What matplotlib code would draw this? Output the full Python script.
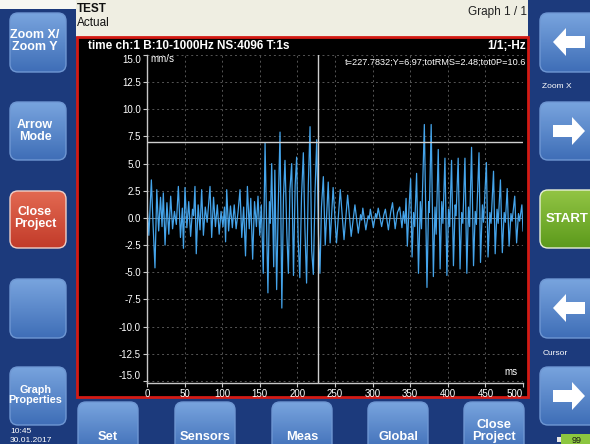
import numpy as np
import matplotlib
matplotlib.use('agg')
import matplotlib.pyplot as plt
from matplotlib.patches import FancyBboxPatch, Rectangle, Polygon
from matplotlib.colors import LinearSegmentedColormap

plt.rcParams['font.family'] = ['Liberation Sans', 'DejaVu Sans']

# waveform turning points: time in ms, velocity in mm/s
t_ms = [
    0.0, 2.5, 5.8, 8.0, 10.6, 13.0, 15.5, 18.0, 20.0, 21.7, 24.0, 26.5, 29.0, 31.5, 34.0, 36.5,
    39.0, 41.7, 44.5, 47.0, 48.5, 50.5, 53.0, 55.5, 58.0, 60.5, 62.0, 63.8, 65.5, 68.0, 70.5,
    72.7, 75.0, 77.5, 80.0, 83.8, 86.0, 88.5, 91.0, 93.5, 96.0, 98.5, 101.0, 103.0, 104.5,
    106.0, 108.5, 111.0, 113.5, 116.0, 118.5, 121.0, 123.7, 126.0, 128.5, 131.0, 133.5, 136.0,
    138.0, 140.5, 143.0, 145.5, 147.6, 150.0, 152.0, 154.6,
    157.0, 160.8, 162.8, 164.0, 165.8, 168.5, 170.0, 172.4, 174.5, 176.9, 179.3, 181.5, 183.5,
    186.0, 188.0, 190.0, 192.4, 194.8, 197.0, 199.0, 201.0, 203.2, 205.5, 207.9, 210.0, 212.2,
    214.5, 216.8, 219.0, 221.2, 223.5, 225.7, 228.0, 230.0, 232.0, 234.5, 237.0, 239.0, 241.0,
    243.5,
    247.5, 252.0, 257.0, 262.0, 266.8, 271.5, 276.5, 281.0, 284.0, 285.5, 287.0, 291.0, 294.0,
    295.5, 297.0, 301.0, 304.0, 305.5, 307.5, 312.0, 315.0, 317.0, 321.0, 324.0, 326.5, 330.0,
    333.0, 336.0, 339.0, 341.0,
    343.0, 344.5, 346.2, 348.5, 350.6, 352.5, 354.5, 356.0, 358.5, 361.0, 363.5, 365.0, 368.8,
    372.3, 374.5, 375.5, 377.9, 380.8, 383.0, 384.5, 387.3, 389.8, 392.0, 393.5, 396.2, 398.8,
    401.0, 402.5, 405.0, 407.5, 409.8, 411.0, 413.8, 416.3, 418.5, 420.0, 422.8, 425.3, 427.5,
    429.0, 431.6, 434.2, 436.5, 438.0, 441.5, 443.5, 446.0, 447.5, 451.3, 453.5, 456.0, 457.5,
    460.8, 463.0, 465.5, 467.0, 470.0, 472.5, 475.0, 476.5, 479.0, 481.5, 484.0, 485.5, 489.0,
    491.5, 494.0, 495.5, 498.5, 500.0,
]
v_mms = [
    1.3, -1.6, 3.5, -0.5, -4.6, 2.6, -1.2, 1.9, -0.8, 2.3, -2.5, 1.4, -1.5, 2.0, -1.0, 0.6,
    -0.6, 2.9, -1.8, 0.9, -2.8, 2.8, -0.9, 1.5, -1.7, 0.8, 0.2, 2.9, -3.3, 1.2, -1.1,
    2.6, -1.6, 1.0, -0.4, 2.9, -1.8, 1.9, -0.8, 1.2, -1.5, 0.6, -0.8, 1.0, -2.2,
    2.6, -1.2, 1.1, -0.9, 1.2, -1.0, 0.5, 2.6, -1.8, 1.0, -3.5, 2.9, -1.0,
    1.8, -3.8, 1.5, -0.8, 2.0, -1.6, 1.2, -5.1,
    6.9, -6.9, 1.5, -0.5, 5.0, -4.5, 4.4, -6.6, 1.0, 7.9, -8.3, 2.0, 5.3,
    -1.5, -5.1, 2.5, 5.0, -5.3, 3.0, 5.6, -2.0, -5.5, 2.0, 6.0, -1.0, -6.0,
    3.0, 8.4, -3.0, -5.2, 2.5, 7.2, -1.5, -5.1, 1.0, 3.8, -2.5, 0.5, 3.3,
    -2.3,
    2.8, -2.3, 2.6, -2.0, 2.1, -1.7, 1.2, -1.4, 0.3, -0.2, 0.9, -1.1, 0.2,
    -0.1, 0.8, -0.9, 0.4, 0.0, 0.9, -0.8, 0.3, 0.8, -1.1, 0.5, 1.4, -1.0,
    0.5, 1.0, -0.9, 0.6,
    -0.5, 1.8, -2.6, 1.0, 3.6, -3.6, 0.5, -0.8, 4.1, -5.1, 1.5, -1.0, 8.6,
    -6.4, 1.5, 0.5, 8.6, -5.4, 1.0, -1.5, 6.3, -4.7, 1.5, -0.5, 5.5, -5.3,
    0.8, -0.8, 5.3, -4.4, 1.2, 0.2, 5.5, -4.7, 0.5, -0.5, 5.5, -5.1, 1.0,
    -0.8, 6.5, -4.4, 0.6, -0.6, 6.0, -4.1, 1.2, -0.4, 5.1, -3.6, 0.5, -0.5,
    4.3, -3.3, 0.8, -0.5, 3.5, -3.2, 0.5, -0.4, 2.7, -2.6, 0.4, -0.3, 2.0,
    -2.3, 0.4, -0.3, 1.2, -1.2,
]

x_ticks = [0, 50, 100, 150, 200, 250, 300, 350, 400, 450, 500]
y_ticks = [15.0, 12.5, 10.0, 7.5, 5.0, 2.5, 0.0, -2.5, -5.0, -7.5, -10.0, -12.5, -15.0]
cursor_t = 227.7832
cursor_y = 6.97

title = 'time ch:1 B:10-1000Hz NS:4096 T:1s'
readout = 't=227.7832;Y=6.97;totRMS=2.48;tot0P=10.6'

W, H = 590, 444
fig = plt.figure(figsize=(W / 100, H / 100), dpi=100)
fig.patch.set_facecolor('#1c3a7c')

ui = fig.add_axes([0, 0, 1, 1])
ui.set_axis_off()

# header strip
ui.add_patch(Rectangle((0, 0), 76, 9, fc='#f7f7f2', ec='none', zorder=1))
ui.add_patch(Rectangle((76, 0), 452, 37, fc='#efeee2', ec='none', zorder=1))
ui.text(77, 9, 'TEST', fontsize=8.5, fontweight='bold', color='#111111', va='center', zorder=3)
ui.text(77, 23, 'Actual', fontsize=8.5, color='#111111', va='center', zorder=3)
ui.text(527, 12, 'Graph 1 / 1', fontsize=8.5, color='#222222', va='center', ha='right', zorder=3)

# black plot panel with red frame
ui.add_patch(Rectangle((76.5, 37.5), 451, 359, fc='black', ec='#d41a14', lw=2, zorder=1))
ui.text(88, 46, title, fontsize=8.5, fontweight='bold', color='white', va='center', zorder=3)
ui.text(526, 46, '1/1;-Hz', fontsize=8.5, fontweight='bold', color='white', va='center', ha='right', zorder=3)
ui.text(526, 62, readout, fontsize=6.6, color='white', va='center', ha='right', zorder=3)


def button(x0, y0, x1, y1, top, bottom, edge, lw=1.0):
    patch = FancyBboxPatch((x0, y0), x1 - x0, y1 - y0,
                           boxstyle='round,pad=0,rounding_size=8',
                           fc='none', ec=edge, lw=lw, zorder=3)
    ui.add_patch(patch)
    cmap = LinearSegmentedColormap.from_list('btn', [top, bottom])
    grad = np.linspace(0, 1, 64)[:, None]
    ui.imshow(grad, cmap=cmap, extent=(x0, x1, y1, y0), aspect='auto',
              clip_path=patch, zorder=2, interpolation='bilinear')


def label(x, y, s, size=9):
    ui.text(x, y, s, fontsize=size, fontweight='bold', color='white',
            ha='center', va='center', linespacing=1.0, zorder=4)


BLUE = ('#78a4de', '#3f6eb7', '#6f97d3')
RED = ('#e36a52', '#c23b2a', '#f0d0c8')
GREEN = ('#93c545', '#5c9a1c', '#e8f0d8')

# left column
left = [(13, 72, 'Zoom X/\nZoom Y', BLUE, 41, 9),
        (102, 160, 'Arrow\nMode', BLUE, 131, 9),
        (191, 248, 'Close\nProject', RED, 218, 9),
        (279, 338, '', BLUE, 308, 9),
        (367, 425, 'Graph\nProperties', BLUE, 395, 7.8)]
for y0, y1, s, c, ty, fs in left:
    button(10, y0, 66, y1, *c)
    if s:
        label(35, ty, s, fs)
ui.text(10, 431, '10:45', fontsize=6, color='white', va='center', zorder=4)
ui.text(10, 440, '30.01.2017', fontsize=6, color='white', va='center', zorder=4)

# bottom row
bottom = [(78, 'Set'), (175, 'Sensors'), (272, 'Meas'), (368, 'Global'), (464, 'Close\nProject')]
for x0, s in bottom:
    button(x0, 402, x0 + 60, 452, *BLUE)
    label(x0 + 30, 431 if '\n' in s else 437, s, 9.3)

# right column
for y0, y1, c in [(13, 72, BLUE), (102, 160, BLUE), (190, 248, GREEN),
                  (279, 338, BLUE), (367, 425, BLUE)]:
    button(540, y0, 600, y1, *c)
label(567, 219, 'START', 9.5)
ui.text(557, 86, 'Zoom X', fontsize=6, color='white', ha='center', va='center', zorder=4)
ui.text(555, 353, 'Cursor', fontsize=6, color='white', ha='center', va='center', zorder=4)


def arrow(cx, cy, direction):
    pts = np.array([[-16, 0], [-3, -14], [-3, -6], [16, -6], [16, 6], [-3, 6], [-3, 14]], float)
    if direction == 'right':
        pts[:, 0] *= -1
    ui.add_patch(Polygon(pts + [cx, cy], closed=True, fc='white', ec='none', zorder=5))


arrow(569, 42, 'left')
arrow(569, 131, 'right')
arrow(569, 308, 'left')
arrow(569, 396, 'right')

# battery
ui.add_patch(Rectangle((561, 434), 30, 11, fc='#8cc63f', ec='none', zorder=3))
ui.add_patch(Rectangle((557, 437), 4, 5, fc='#e6e6e6', ec='none', zorder=3))
ui.text(577, 440, '99', fontsize=6.5, color='#1a1a1a', ha='center', va='center', zorder=4)

ui.set_xlim(0, W)
ui.set_ylim(H, 0)

# signal axes
ax = fig.add_axes([147 / W, 1 - 383 / H, 376 / W, 328 / H])
ax.set_facecolor('none')
ax.set_xlim(0, 500)
ax.set_ylim(-15.2, 15.0)
for side in ('top', 'right'):
    ax.spines[side].set_visible(False)
for side in ('left', 'bottom'):
    ax.spines[side].set_color('#c8c8c8')
    ax.spines[side].set_linewidth(1.0)

ax.set_xticks(x_ticks)
ax.set_yticks(y_ticks)
ax.set_xticklabels([str(v) for v in x_ticks])
ax.set_yticklabels(['%.1f' % v for v in y_ticks])
ax.tick_params(colors='#c8c8c8', labelcolor='white', labelsize=7, length=3, width=0.8, pad=1.5)
ax.get_xticklabels()[-1].set_ha('right')
ax.get_yticklabels()[0].set_va('top')
ax.get_yticklabels()[-1].set_va('bottom')
ax.grid(True, color='#555555', linestyle=(0, (2, 3)), linewidth=0.7)
ax.set_axisbelow(True)

ax.axhline(0, color='#8c8c8c', lw=0.6, zorder=1)
ax.plot(t_ms, v_mms, color='#45a4ea', lw=0.9, zorder=2)
ax.axvline(cursor_t, color='#cfcfcf', lw=1.0, zorder=3)
ax.axhline(cursor_y, color='#cfcfcf', lw=1.0, zorder=3)

ax.text(4, 14.6, 'mm/s', fontsize=7, color='white', va='center')
ax.text(493, -14.2, 'ms', fontsize=7, color='white', va='center', ha='right')

fig.savefig('out.png', dpi=100, facecolor=fig.get_facecolor())
